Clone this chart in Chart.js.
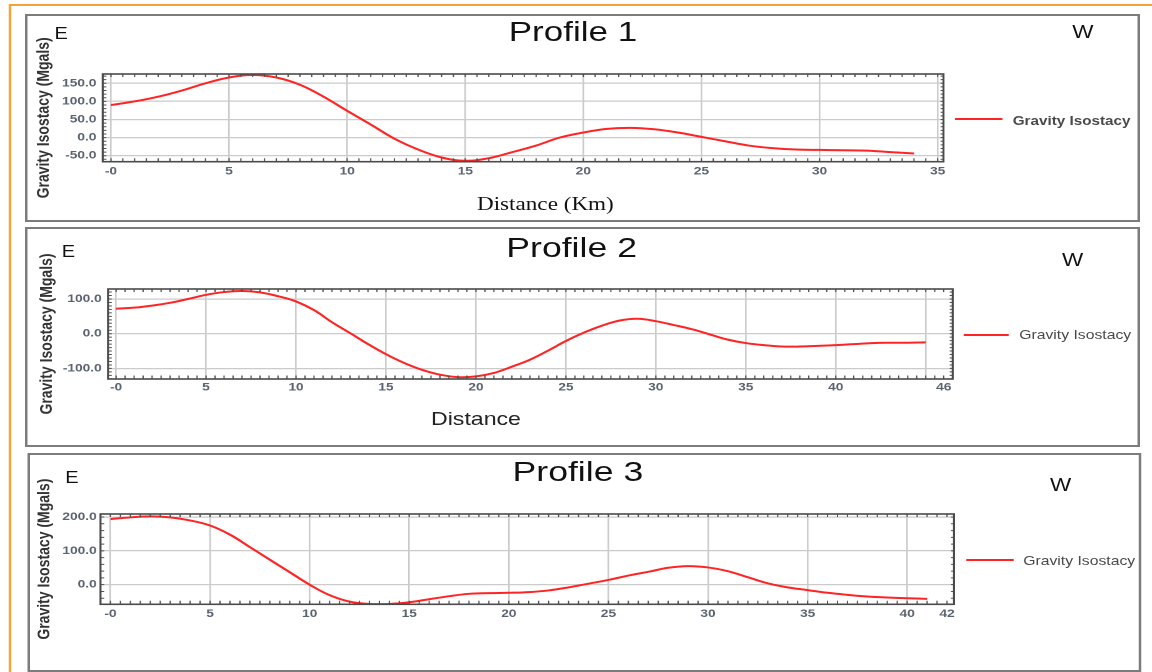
<!DOCTYPE html>
<html>
<head>
<meta charset="utf-8">
<title>Gravity Isostacy profiles</title>
<script src="https://cdn.jsdelivr.net/npm/chart.js@4.4.1/dist/chart.umd.min.js"></script>
<style>
  html, body { margin: 0; padding: 0; background: #fff; overflow: hidden; }
  body { width: 1152px; height: 672px; position: relative; }
  /* the source figure is stretched horizontally, so the whole page is laid out narrow and scaled */
  #page { position: absolute; left: 0; top: 0; width: 921.6px; height: 672px; transform: scaleX(1.25); transform-origin: 0 0; }
  .txt { position: absolute; white-space: nowrap; line-height: 1; font-family: "Liberation Sans", Arial, sans-serif; color: #111; }
  .panel { position: absolute; border: 2px solid #7c7c7c; box-sizing: border-box; }
  .orange { position: absolute; background: #f2a33a; }
  .legline { position: absolute; height: 2px; background: #ff2424; }
  .legtxt { color: #4a4a4a; }
  canvas { position: absolute; }
</style>
</head>
<body>
<div id="page">
  <div class="orange" style="left:8px;top:4px;width:914px;height:2px;"></div>
  <div class="orange" style="left:7.2px;top:4px;width:1.6px;height:668px;"></div>

  <div class="panel" style="left:20px;top:14px;width:892px;height:208px;"></div>
  <div class="panel" style="left:20px;top:227px;width:892px;height:220px;"></div>
  <div class="panel" style="left:21.6px;top:453px;width:891.6px;height:219px;"></div>

  <div class="txt" style="left:407px;top:18px;font-size:28px;">Profile 1</div>
  <div class="txt" style="left:405px;top:233px;font-size:28.5px;">Profile 2</div>
  <div class="txt" style="left:410px;top:457px;font-size:28.5px;">Profile 3</div>

  <div class="txt" style="left:43.5px;top:25.5px;font-size:16px;">E</div>
  <div class="txt" style="left:49.4px;top:244px;font-size:16px;">E</div>
  <div class="txt" style="left:52.3px;top:469.5px;font-size:16px;">E</div>

  <div class="txt" style="left:857.8px;top:23px;font-size:18px;">W</div>
  <div class="txt" style="left:849.6px;top:250.5px;font-size:18px;">W</div>
  <div class="txt" style="left:840px;top:476px;font-size:18px;">W</div>

  <div class="txt" style="left:381.6px;top:194.5px;font-size:18.5px;font-family:'Liberation Serif','Times New Roman',serif;">Distance (Km)</div>
  <div class="txt" style="left:344.8px;top:410px;font-size:18.5px;color:#222;">Distance</div>

  <div class="legline" style="left:764.3px;top:117.5px;width:37.7px;"></div>
  <div class="txt legtxt" style="left:810.2px;top:114.7px;font-size:12.2px;font-weight:bold;">Gravity Isostacy</div>
  <div class="legline" style="left:770.6px;top:334px;width:36.8px;"></div>
  <div class="txt legtxt" style="left:815.4px;top:328.8px;font-size:12.6px;">Gravity Isostacy</div>
  <div class="legline" style="left:772.8px;top:558.5px;width:37.8px;"></div>
  <div class="txt legtxt" style="left:818.6px;top:554.5px;font-size:12.6px;">Gravity Isostacy</div>

  <canvas id="c1"></canvas>
  <canvas id="c2"></canvas>
  <canvas id="c3"></canvas>
</div>

<script>
// Profile 1
const distance1 = [0, 1, 2, 3, 4, 5, 6, 7, 8, 9, 10, 11, 12, 13, 14, 15, 16, 17, 18, 19, 20, 21, 22, 23, 24, 25, 26, 27, 28, 29, 30, 31, 32, 33, 34];
const gravity1 = [90, 100, 113, 130, 150, 166, 173, 166, 146, 113, 74, 36, -3, -33, -55, -64, -57, -40, -22, 0, 14, 24, 27, 23, 14, 2, -10, -22, -29, -33, -34, -35, -36, -40, -44];
const xTicks1 = [0, 5, 10, 15, 20, 25, 30, 35];
const xTickLabels1 = ['-0', '5', '10', '15', '20', '25', '30', '35'];
const yTicks1 = [-50, 0, 50, 100, 150];
const yTickLabels1 = ['-50.0', '0.0', '50.0', '100.0', '150.0'];

// Profile 2
const distance2 = [0, 1, 2, 3, 4, 5, 6, 7, 8, 9, 10, 11, 12, 13, 14, 15, 16, 17, 18, 19, 20, 21, 22, 23, 24, 25, 26, 27, 28, 29, 30, 31, 32, 33, 34, 35, 36, 37, 38, 39, 40, 41, 42, 43, 44, 45];
const gravity2 = [72, 75, 81, 89, 100, 112, 120, 123, 119, 108, 93, 68, 33, 2, -30, -59, -84, -104, -118, -125, -123, -113, -95, -75, -49, -21, 3, 23, 38, 43, 36, 25, 13, -2, -17, -27, -33, -37, -37, -35, -33, -30, -27, -26, -26, -25];
const xTicks2 = [0, 5, 10, 15, 20, 25, 30, 35, 40, 45, 46];
const xTickLabels2 = ['-0', '5', '10', '15', '20', '25', '30', '35', '40', '', '46'];
const yTicks2 = [-100, 0, 100];
const yTickLabels2 = ['-100.0', '0.0', '100.0'];

// Profile 3
const distance3 = [0, 1, 2, 3, 4, 5, 6, 7, 8, 9, 10, 11, 12, 13, 14, 15, 16, 17, 18, 19, 20, 21, 22, 23, 24, 25, 26, 27, 28, 29, 30, 31, 32, 33, 34, 35, 36, 37, 38, 39, 40, 41];
const gravity3 = [194, 199, 202, 199, 190, 175, 148, 111, 74, 37, 0, -31, -50, -57, -57, -52, -43, -34, -27, -25, -24, -22, -17, -8, 3, 14, 27, 38, 50, 55, 51, 40, 22, 4, -8, -16, -24, -30, -35, -38, -40, -42];
const xTicks3 = [0, 5, 10, 15, 20, 25, 30, 35, 40, 42];
const xTickLabels3 = ['-0', '5', '10', '15', '20', '25', '30', '35', '40', '42'];
const yTicks3 = [0, 100, 200];
const yTickLabels3 = ['0.0', '100.0', '200.0'];

const S = 1.25;           // horizontal stretch of the page
const CANVAS_LEFT = 24;   // page units
const CANVAS_W = 764;
const TOP_M = 50;         // room above the plot for the axis title
const X_H = 24;           // x axis band
const BOT_M = 50;         // room below the x axis for the axis title
const GRID = '#cbcbcb';
const TICK = '#5b6370';

Chart.defaults.font.family = "'Liberation Sans', Arial, sans-serif";

// frame with small ruler ticks on all four sides
const frameTicks = {
  id: 'frameTicks',
  afterDraw(chart, args, opts) {
    const { ctx, chartArea: a, scales: { x, y } } = chart;
    ctx.save();
    ctx.strokeStyle = '#505050';
    ctx.lineWidth = 1;
    ctx.beginPath();
    const x0 = Math.ceil(x.min / opts.xStep);
    const x1 = Math.floor(x.max / opts.xStep);
    for (let i = x0; i <= x1; i++) {
      const px = x.getPixelForValue(i * opts.xStep);
      ctx.moveTo(px, a.top); ctx.lineTo(px, a.top + 3);
      ctx.moveTo(px, a.bottom); ctx.lineTo(px, a.bottom - 3.5);
    }
    const y0 = Math.ceil(y.min / opts.yStep);
    const y1 = Math.floor(y.max / opts.yStep);
    for (let i = y0; i <= y1; i++) {
      const py = y.getPixelForValue(i * opts.yStep);
      ctx.moveTo(a.left, py); ctx.lineTo(a.left + 3, py);
      ctx.moveTo(a.right, py); ctx.lineTo(a.right - 2.4, py);
    }
    ctx.stroke();
    ctx.lineWidth = 1.6;
    ctx.strokeStyle = '#4a4a4a';
    ctx.strokeRect(a.left, a.top, a.right - a.left, a.bottom - a.top);
    ctx.restore();
  }
};

// plot rectangles are in reference pixels [left, top, right, bottom]
const panels = [
  { id: 'c1', dist: distance1, vals: gravity1, xMin: -0.35, xMax: 35.25, yMin: -66.6, yMax: 175.7,
    xTicks: xTicks1, xLabels: xTickLabels1, xNoGrid: [], yTicks: yTicks1, yLabels: yTickLabels1,
    plot: [102.7, 74, 943.5, 161.7], titleX: 44, yPad: 5, xPad: 3, xStep: 0.5, yStep: 10 },
  { id: 'c2', dist: distance2, vals: gravity2, xMin: -0.45, xMax: 46.5, yMin: -130.5, yMax: 128.8,
    xTicks: xTicks2, xLabels: xTickLabels2, xNoGrid: [46], yTicks: yTicks2, yLabels: yTickLabels2,
    plot: [108, 289.3, 952.7, 379.3], titleX: 47, yPad: 5, xPad: 2, xStep: 0.5, yStep: 10 },
  { id: 'c3', dist: distance3, vals: gravity3, xMin: -0.5, xMax: 42.35, yMin: -58, yMax: 209,
    xTicks: xTicks3, xLabels: xTickLabels3, xNoGrid: [42], yTicks: yTicks3, yLabels: yTickLabels3,
    plot: [100.5, 513.7, 954, 604], titleX: 44.5, yPad: 3, xPad: 3, xStep: 0.5, yStep: 20 }
];

panels.forEach(p => {
  const [l, t, r, b] = p.plot;
  const plotH = b - t;
  const ch = Math.ceil(TOP_M + plotH + X_H + BOT_M);
  const cv = document.getElementById(p.id);
  cv.width = CANVAS_W;
  cv.height = ch;
  cv.style.left = CANVAS_LEFT + 'px';
  cv.style.top = (t - TOP_M) + 'px';
  cv.style.width = CANVAS_W + 'px';
  cv.style.height = ch + 'px';

  const yWidth = l / S - CANVAS_LEFT;
  const padRight = CANVAS_W - (r / S - CANVAS_LEFT);
  const padBottom = ch - TOP_M - plotH - X_H;
  const titlePad = p.titleX / S - CANVAS_LEFT - 8.4;

  new Chart(cv, {
    type: 'line',
    data: {
      datasets: [{
        label: 'Gravity Isostacy',
        data: p.dist.map((d, i) => ({ x: d, y: p.vals[i] })),
        borderColor: '#ff2424',
        borderWidth: 2,
        pointRadius: 0,
        fill: false,
        tension: 0.4
      }]
    },
    options: {
      responsive: false,
      animation: false,
      devicePixelRatio: 2,
      layout: { padding: { left: 0, top: TOP_M, right: padRight, bottom: padBottom } },
      plugins: {
        legend: { display: false },
        tooltip: { enabled: false },
        frameTicks: { xStep: p.xStep, yStep: p.yStep }
      },
      scales: {
        x: {
          type: 'linear',
          min: p.xMin,
          max: p.xMax,
          afterBuildTicks: s => { s.ticks = p.xTicks.map(v => ({ value: v })); },
          afterFit: s => { s.height = X_H; },
          border: { display: false },
          grid: {
            drawTicks: false,
            lineWidth: 1.3,
            color: c => (c.tick && p.xNoGrid.includes(c.tick.value)) ? 'rgba(0,0,0,0)' : GRID
          },
          ticks: {
            autoSkip: false,
            maxRotation: 0,
            padding: p.xPad,
            color: TICK,
            font: { size: 11, weight: 'bold' },
            callback: (v, i) => p.xLabels[i]
          }
        },
        y: {
          type: 'linear',
          min: p.yMin,
          max: p.yMax,
          afterBuildTicks: s => { s.ticks = p.yTicks.map(v => ({ value: v })); },
          afterFit: s => { s.width = yWidth; },
          border: { display: false },
          grid: { drawTicks: false, lineWidth: 1.3, color: GRID },
          ticks: {
            padding: p.yPad,
            color: TICK,
            font: { size: 11, weight: 'bold' },
            callback: (v, i) => p.yLabels[i]
          },
          title: {
            display: true,
            text: 'Gravity Isostacy (Mgals)',
            color: '#333',
            font: { size: 14, weight: 'bold' },
            padding: { top: titlePad, bottom: 0 }
          }
        }
      }
    },
    plugins: [frameTicks]
  });
});
</script>
</body>
</html>
